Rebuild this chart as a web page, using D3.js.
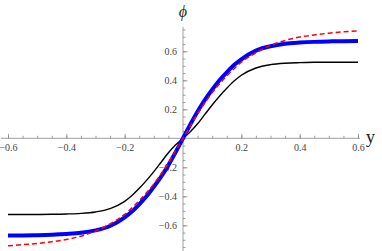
<!DOCTYPE html>
<html>
<head>
<meta charset="utf-8">
<script src="https://cdn.jsdelivr.net/npm/d3@7"></script>
<style>
  body { margin: 0; background: #fff; }
  svg { display: block; }
</style>
</head>
<body>
<div id="chart"></div>
<script>
// Sample positions along y, shared by all three curves.
var ys = [-0.6, -0.55, -0.5, -0.45, -0.4, -0.35, -0.3, -0.25, -0.2, -0.175,
  -0.15, -0.125, -0.1, -0.075, -0.05, -0.025, 0, 0.025, 0.05, 0.075, 0.1,
  0.125, 0.15, 0.175, 0.2, 0.25, 0.3, 0.35, 0.4, 0.45, 0.5, 0.55, 0.6];

// phi values.
var phiBlack = [-0.525, -0.525, -0.525, -0.524, -0.522, -0.518, -0.508, -0.485,
  -0.435, -0.395, -0.345, -0.29, -0.23, -0.165, -0.10, -0.045, 0, 0.045, 0.10,
  0.165, 0.23, 0.29, 0.345, 0.395, 0.435, 0.485, 0.508, 0.518, 0.522, 0.524,
  0.525, 0.525, 0.525];

var phiRed = [-0.741, -0.734, -0.725, -0.713, -0.698, -0.675, -0.64, -0.59,
  -0.525, -0.48, -0.43, -0.375, -0.315, -0.245, -0.17, -0.085, 0, 0.085, 0.17,
  0.245, 0.315, 0.375, 0.43, 0.48, 0.525, 0.59, 0.64, 0.675, 0.698, 0.713,
  0.725, 0.734, 0.741];

var phiBlue = [-0.671, -0.67, -0.668, -0.665, -0.66, -0.652, -0.635, -0.605,
  -0.545, -0.505, -0.455, -0.40, -0.335, -0.265, -0.185, -0.095, 0, 0.095, 0.185,
  0.265, 0.335, 0.40, 0.455, 0.505, 0.545, 0.605, 0.635, 0.652, 0.66, 0.665,
  0.668, 0.67, 0.671];

var xMajor = [-0.6, -0.4, -0.2, 0.2, 0.4, 0.6];
var yMajor = [-0.6, -0.4, -0.2, 0.2, 0.4, 0.6];

var width = 382, height = 251;
var fontFamily = 'Times New Roman, Liberation Serif, serif';

var svg = d3.select('#chart').append('svg')
  .attr('width', width)
  .attr('height', height);

var x = d3.scaleLinear().domain([-0.6, 0.6]).range([8, 358]);
var y = d3.scaleLinear().domain([-0.6, 0.6]).range([225.3, 51.3]);

var fmt = d3.format('.1f');
var axisColor = '#888';

function styleAxis(g) {
  g.attr('font-family', fontFamily).attr('font-size', 10);
  g.select('.domain').remove();
  g.selectAll('line').attr('stroke', axisColor).attr('stroke-width', 0.8);
  g.selectAll('text')
    .attr('fill', '#444')
    .attr('font-family', fontFamily)
    .attr('font-size', 10);
}

// Minor ticks every 0.05.
var minor = d3.range(-0.75, 0.76, 0.05).map(function(v) { return +v.toFixed(2); });

// x axis
svg.append('line')
  .attr('x1', 1).attr('x2', 360)
  .attr('y1', y(0)).attr('y2', y(0))
  .attr('stroke', axisColor).attr('stroke-width', 0.8);

svg.append('g')
  .attr('transform', 'translate(0,' + y(0) + ')')
  .call(d3.axisBottom(x)
    .tickValues(minor.filter(function(v) { return v >= -0.6 && v <= 0.6; }))
    .tickSize(-2.5).tickFormat(''))
  .call(styleAxis);

svg.append('g')
  .attr('transform', 'translate(0,' + y(0) + ')')
  .call(d3.axisBottom(x).tickValues(xMajor).tickSize(-4.5).tickPadding(6).tickFormat(fmt))
  .call(styleAxis);

// y axis
svg.append('line')
  .attr('x1', x(0)).attr('x2', x(0))
  .attr('y1', 27).attr('y2', height)
  .attr('stroke', axisColor).attr('stroke-width', 0.8);

svg.append('g')
  .attr('transform', 'translate(' + x(0) + ',0)')
  .call(d3.axisLeft(y).tickValues(minor).tickSize(-2.5).tickFormat(''))
  .call(styleAxis);

svg.append('g')
  .attr('transform', 'translate(' + x(0) + ',0)')
  .call(d3.axisLeft(y).tickValues(yMajor).tickSize(-4.5).tickPadding(6).tickFormat(fmt))
  .call(styleAxis);

// Axis labels
svg.append('text')
  .attr('x', 366).attr('y', 143)
  .text('y')
  .attr('font-family', fontFamily)
  .attr('font-size', 18)
  .attr('fill', '#222');

svg.append('text')
  .attr('x', x(0)).attr('y', 17)
  .attr('text-anchor', 'middle')
  .text('ϕ')
  .attr('font-family', fontFamily)
  .attr('font-style', 'italic')
  .attr('font-size', 16)
  .attr('fill', '#222');

// Curves
var line = d3.line()
  .x(function(d) { return x(d[0]); })
  .y(function(d) { return y(d[1]); })
  .curve(d3.curveMonotoneX);

function pairs(vals) {
  return ys.map(function(v, i) { return [v, vals[i]]; });
}

svg.append('path')
  .datum(pairs(phiBlack))
  .attr('d', line)
  .attr('fill', 'none')
  .attr('stroke', '#000')
  .attr('stroke-width', 1.4);

svg.append('path')
  .datum(pairs(phiBlue))
  .attr('d', line)
  .attr('fill', 'none')
  .attr('stroke', '#0000ff')
  .attr('stroke-width', 4);

svg.append('path')
  .datum(pairs(phiRed))
  .attr('d', line)
  .attr('fill', 'none')
  .attr('stroke', '#ff0000')
  .attr('stroke-width', 1.5)
  .attr('stroke-dasharray', '5,3');
</script>
</body>
</html>
